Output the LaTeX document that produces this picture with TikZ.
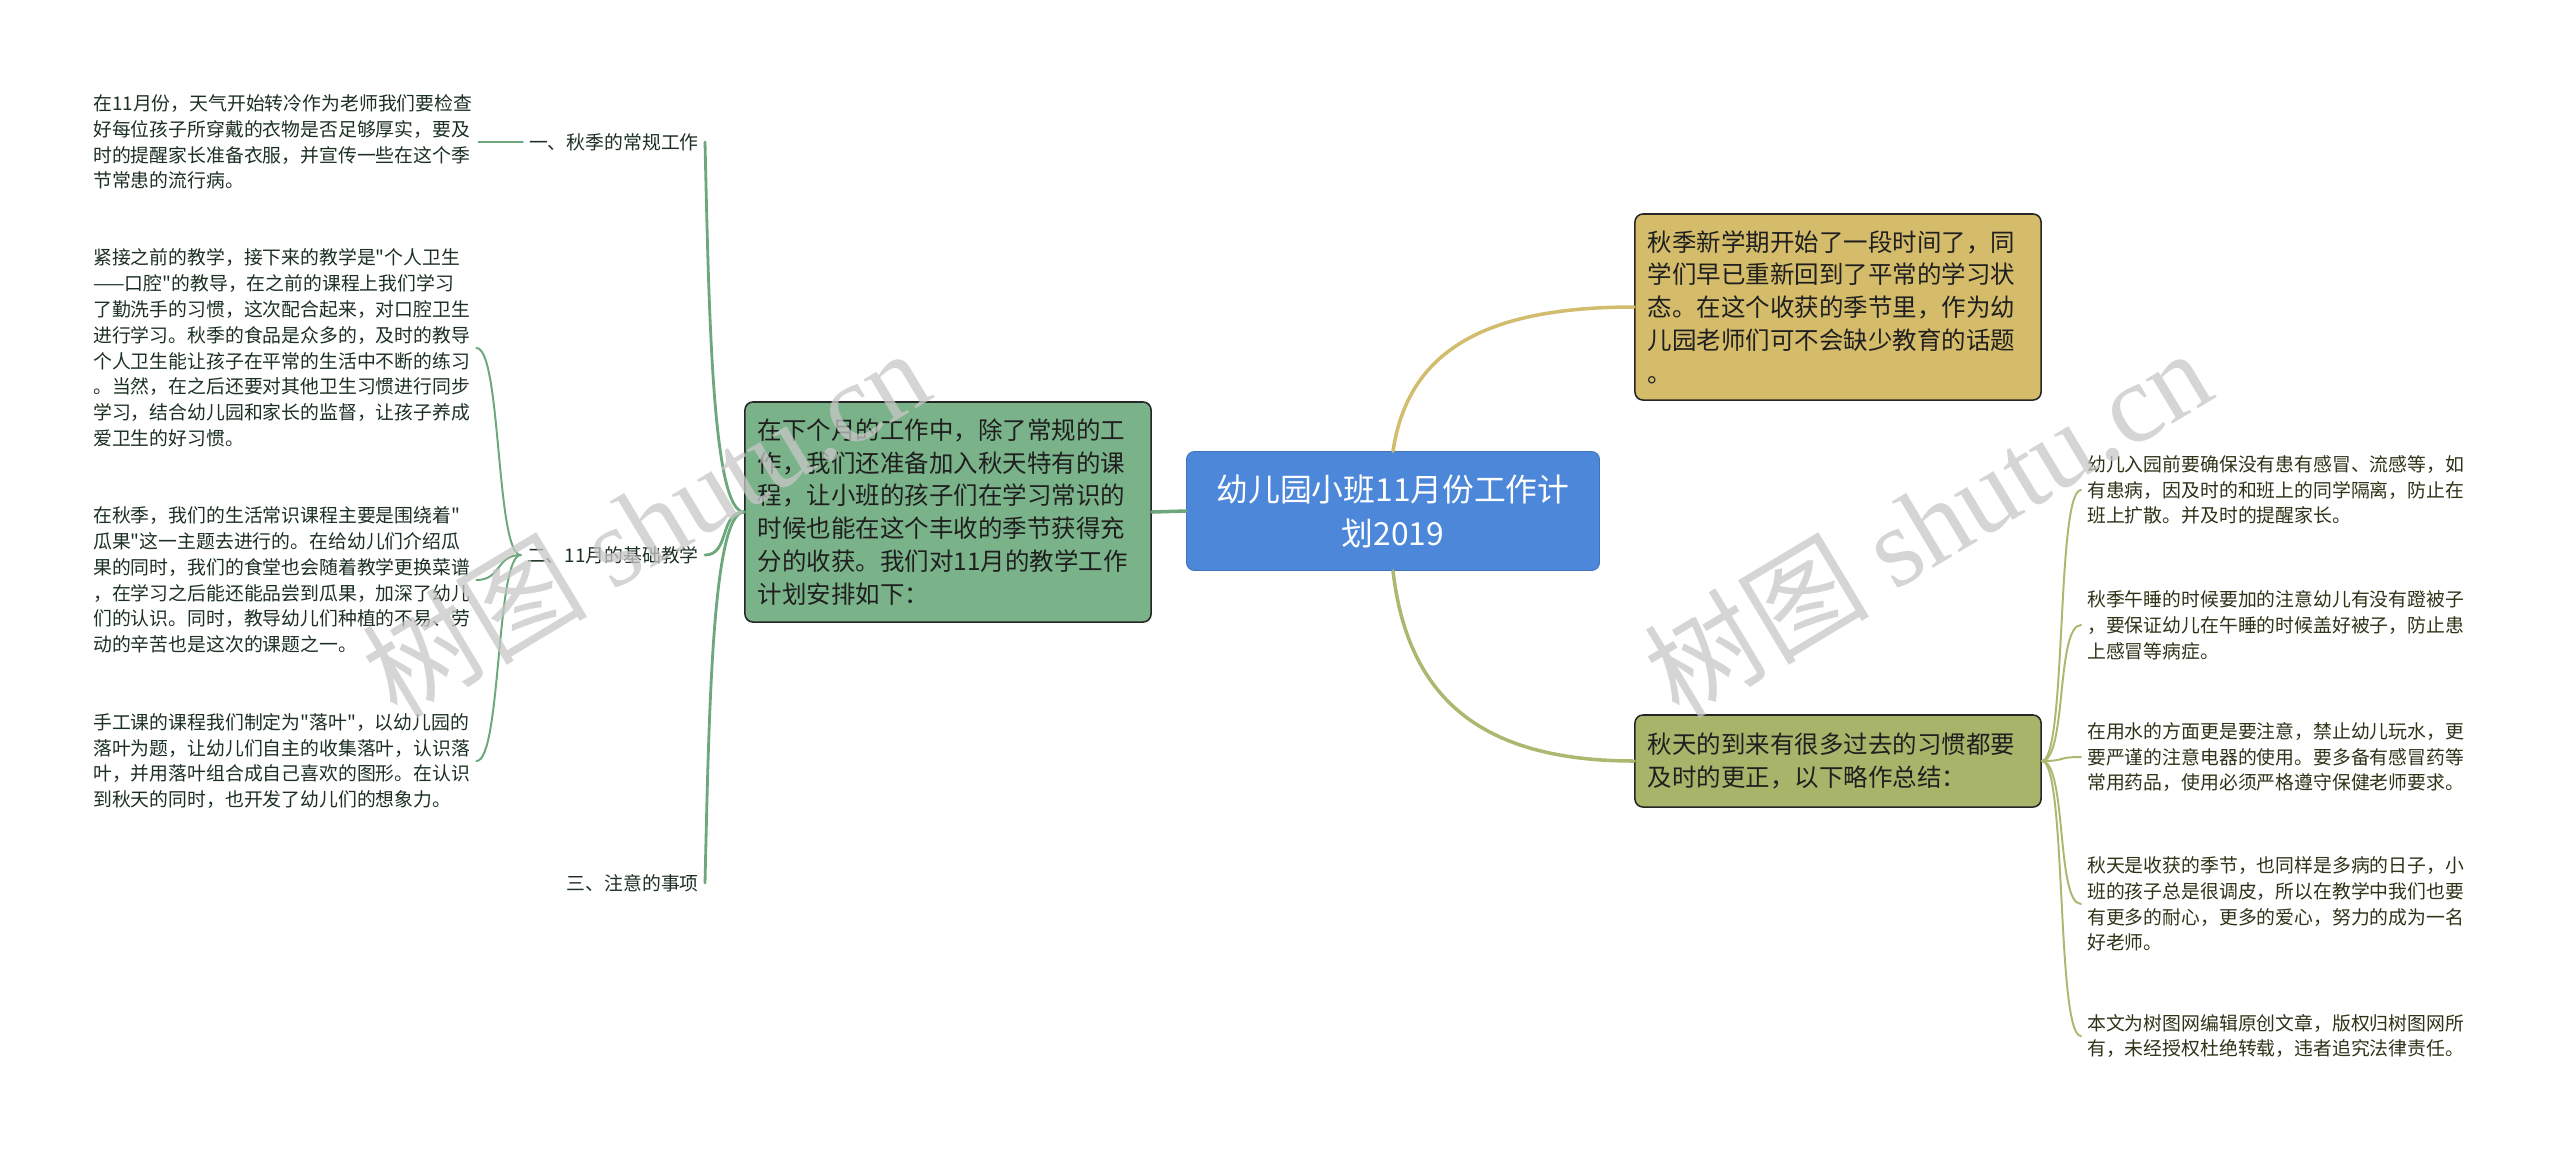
\documentclass[tikz,border=0pt]{standalone}
\usepackage{fontspec}
\setmainfont{Noto Sans CJK SC}[Ligatures=TeXOff]
\newfontfamily\markfont{Liberation Serif}
\usepackage{tikz}
\usetikzlibrary{positioning}
\definecolor{rootblue}{RGB}{76,135,218}
\definecolor{plangreen}{RGB}{122,178,137}
\definecolor{introyellow}{RGB}{212,188,106}
\definecolor{habitolive}{RGB}{168,180,106}
\definecolor{greenline}{RGB}{108,168,124}
\definecolor{yellowline}{RGB}{210,188,110}
\definecolor{oliveline}{RGB}{172,184,112}
\definecolor{leftink}{RGB}{28,48,34}
\definecolor{rightink}{RGB}{48,50,24}

\begin{document}
\begin{tikzpicture}[
  x=0.025cm, y=-0.025cm,
  root/.style={rectangle, rounded corners=0.2cm, fill=rootblue, draw=rootblue!85!black, line width=0.6pt,
    text=white, align=center, minimum width=10.325cm, minimum height=2.975cm,
    font=\fontsize{22.6pt}{31.3pt}\selectfont},
  mainbox/.style={rectangle, rounded corners=0.2cm, draw=black!85, line width=1.1pt, align=left,
    text width=9.5cm, inner xsep=0.325cm, text=black!88, font=\fontsize{17.4pt}{23.3pt}\selectfont},
  topic/.style={anchor=east, inner xsep=0.15cm, text=leftink, font=\fontsize{13.4pt}{18.3pt}\selectfont},
  leafl/.style={anchor=west, align=left, inner xsep=0.15cm, text=leftink, font=\fontsize{13.4pt}{18.35pt}\selectfont},
  leafr/.style={anchor=west, align=left, inner xsep=0.15cm, text=rightink, font=\fontsize{13.4pt}{18.35pt}\selectfont},
  link/.style={line width=2.5pt, line cap=round},
  stem/.style={line width=2pt, line cap=round},
  twig/.style={line width=1.4pt, line cap=round},
  watermark/.style={text=black!22, text opacity=0.75, rotate=31, font=\fontsize{80pt}{90pt}\selectfont}
]
\useasboundingbox (0,0) rectangle (2560,1153);

\node[root] (root) at (1393,511) {幼儿园小班11月份工作计\\划2019};
\node[mainbox, fill=plangreen, minimum height=5.5cm] (plan) at (948,512) {在下个月的工作中，除了常规的工\\作，我们还准备加入秋天特有的课\\程，让小班的孩子们在学习常识的\\时候也能在这个丰收的季节获得充\\分的收获。我们对11月的教学工作\\计划安排如下：};
\node[mainbox, fill=introyellow, minimum height=4.65cm] (intro) at (1838,307) {秋季新学期开始了一段时间了，同\\学们早已重新回到了平常的学习状\\态。在这个收获的季节里，作为幼\\儿园老师们可不会缺少教育的话题\\。};
\node[mainbox, fill=habitolive, minimum height=2.3cm] (habit) at (1838,761) {秋天的到来有很多过去的习惯都要\\及时的更正，以下略作总结：};

\node[topic] (t1) at (705,142) {一、秋季的常规工作};
\node[topic] (t2) at (705,555) {二、11月的基础教学};
\node[topic] (t3) at (705,883) {三、注意的事项};

\node[leafl] (l1) at (87,142) {在11月份，天气开始转冷作为老师我们要检查\\好每位孩子所穿戴的衣物是否足够厚实，要及\\时的提醒家长准备衣服，并宣传一些在这个季\\节常患的流行病。};
\node[leafl] (l2) at (87,348) {紧接之前的教学，接下来的教学是"个人卫生\\——口腔"的教导，在之前的课程上我们学习\\了勤洗手的习惯，这次配合起来，对口腔卫生\\进行学习。秋季的食品是众多的，及时的教导\\个人卫生能让孩子在平常的生活中不断的练习\\。当然，在之后还要对其他卫生习惯进行同步\\学习，结合幼儿园和家长的监督，让孩子养成\\爱卫生的好习惯。};
\node[leafl] (l3) at (87,580) {在秋季，我们的生活常识课程主要是围绕着"\\瓜果"这一主题去进行的。在给幼儿们介绍瓜\\果的同时，我们的食堂也会随着教学更换菜谱\\，在学习之后能还能品尝到瓜果，加深了幼儿\\们的认识。同时，教导幼儿们种植的不易、劳\\动的辛苦也是这次的课题之一。};
\node[leafl] (l4) at (87,761) {手工课的课程我们制定为"落叶"，以幼儿园的\\落叶为题，让幼儿们自主的收集落叶，认识落\\叶，并用落叶组合成自己喜欢的图形。在认识\\到秋天的同时，也开发了幼儿们的想象力。};

\node[leafr] (r1) at (2081,490) {幼儿入园前要确保没有患有感冒、流感等，如\\有患病，因及时的和班上的同学隔离，防止在\\班上扩散。并及时的提醒家长。};
\node[leafr] (r2) at (2081,625) {秋季午睡的时候要加的注意幼儿有没有蹬被子\\，要保证幼儿在午睡的时候盖好被子，防止患\\上感冒等病症。};
\node[leafr] (r3) at (2081,757) {在用水的方面更是要注意，禁止幼儿玩水，更\\要严谨的注意电器的使用。要多备有感冒药等\\常用药品，使用必须严格遵守保健老师要求。};
\node[leafr] (r4) at (2081,904) {秋天是收获的季节，也同样是多病的日子，小\\班的孩子总是很调皮，所以在教学中我们也要\\有更多的耐心，更多的爱心，努力的成为一名\\好老师。};
\node[leafr] (r5) at (2081,1036) {本文为树图网编辑原创文章，版权归树图网所\\有，未经授权杜绝转载，违者追究法律责任。};

\draw[link, greenline] (plan.east) -- (root.west);
\draw[link, yellowline] (root.north) .. controls +(15,-100) and +(-150,0) .. (intro.west);
\draw[link, oliveline] (root.south) .. controls +(15,130) and +(-150,0) .. (habit.west);

\draw[stem, greenline] (plan.west) .. controls +(-32,0) and +(4,170) .. (t1.east);
\draw[stem, greenline] (plan.west) .. controls +(-25,0) and +(25,0) .. (t2.east);
\draw[stem, greenline] (plan.west) .. controls +(-32,0) and +(4,-170) .. (t3.east);

\draw[twig, greenline] (t1.west) -- (l1.east);
\draw[twig, greenline] (t2.west) .. controls +(-25,0) and +(25,0) .. (l2.east);
\draw[twig, greenline] (t2.west) .. controls +(-25,0) and +(25,0) .. (l3.east);
\draw[twig, greenline] (t2.west) .. controls +(-25,0) and +(25,0) .. (l4.east);

\draw[twig, oliveline] (habit.east) .. controls +(25,0) and +(-25,0) .. (r1.west);
\draw[twig, oliveline] (habit.east) .. controls +(25,0) and +(-25,0) .. (r2.west);
\draw[twig, oliveline] (habit.east) .. controls +(25,0) and +(-25,0) .. (r3.west);
\draw[twig, oliveline] (habit.east) .. controls +(25,0) and +(-25,0) .. (r4.west);
\draw[twig, oliveline] (habit.east) .. controls +(25,0) and +(-25,0) .. (r5.west);

\node[watermark] (mk1) at (645,522) {树图 {\markfont shutu.cn}};
\node[watermark] (mk2) at (1927,522) {树图 {\markfont shutu.cn}};

\end{tikzpicture}
\end{document}
